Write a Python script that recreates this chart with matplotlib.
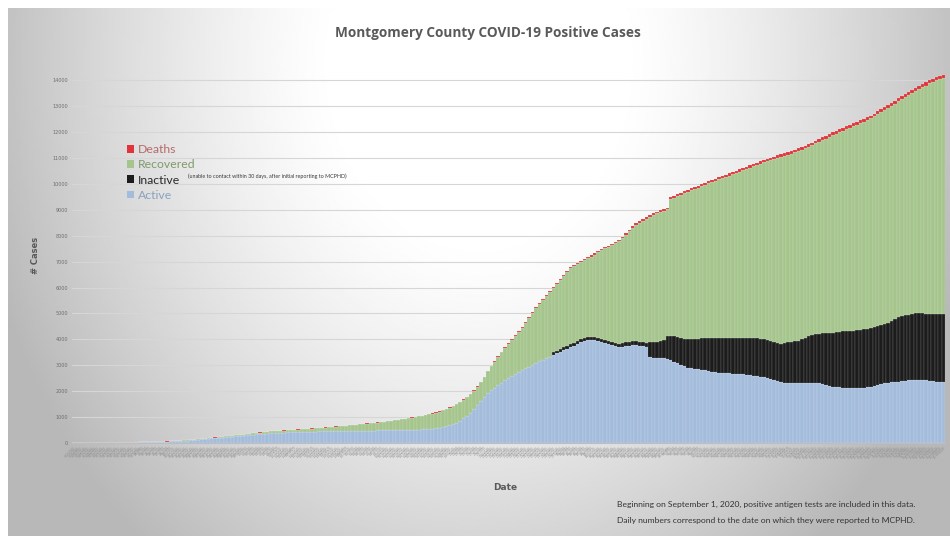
"""Montgomery County COVID-19 positive cases, stacked daily bars."""

import datetime

import matplotlib
import matplotlib.pyplot as plt
import numpy as np
from matplotlib.patches import Patch

matplotlib.use("agg")

# Daily values (cumulative counts per reported day)
start_date = datetime.date(2020, 3, 12)

total_cases = [
    0, 1, 1, 2, 2, 3, 3, 4, 4, 5,
    5, 6, 7, 9, 10, 12, 14, 16, 19, 22,
    25, 29, 33, 37, 42, 47, 53, 59, 66, 73,
    80, 90, 100, 110, 122, 134, 146, 160, 173, 186,
    200, 214, 228, 242, 256, 270, 284, 298, 312, 326,
    340, 357, 374, 391, 408, 425, 440, 450, 460, 470,
    480, 488, 497, 506, 515, 524, 533, 542, 551, 560,
    570, 581, 592, 603, 614, 626, 638, 650, 662, 674,
    686, 700, 714, 728, 742, 756, 770, 784, 798, 812,
    830, 848, 866, 884, 902, 920, 940, 962, 985, 1010,
    1035, 1060, 1090, 1120, 1150, 1185, 1225, 1270, 1320, 1375,
    1440, 1510, 1590, 1680, 1790, 1910, 2040, 2190, 2360, 2560,
    2780, 2980, 3160, 3340, 3520, 3700, 3860, 4010, 4160, 4320,
    4470, 4660, 4850, 5050, 5240, 5400, 5550, 5700, 5860, 6010,
    6170, 6330, 6490, 6640, 6790, 6870, 6950, 7030, 7100, 7170,
    7240, 7320, 7410, 7500, 7560, 7620, 7690, 7760, 7840, 7970,
    8100, 8230, 8360, 8480, 8560, 8640, 8720, 8800, 8880, 8930,
    8980, 9030, 9090, 9480, 9540, 9600, 9660, 9720, 9780, 9840,
    9890, 9940, 10000, 10050, 10100, 10150, 10200, 10260, 10310, 10360,
    10410, 10460, 10520, 10570, 10620, 10670, 10720, 10770, 10820, 10880,
    10930, 10980, 11020, 11060, 11100, 11140, 11180, 11220, 11270, 11320,
    11370, 11420, 11480, 11540, 11600, 11670, 11730, 11800, 11860, 11930,
    11990, 12050, 12110, 12170, 12230, 12280, 12340, 12400, 12460, 12510,
    12570, 12640, 12720, 12800, 12880, 12960, 13040, 13120, 13210, 13300,
    13380, 13460, 13540, 13620, 13700, 13780, 13850, 13920, 14000, 14070,
    14120, 14160, 14200,
]

active = [
    0, 1, 1, 2, 2, 3, 3, 4, 4, 5,
    5, 6, 7, 9, 10, 12, 14, 16, 18, 21,
    24, 27, 31, 35, 40, 45, 50, 55, 61, 67,
    73, 80, 88, 96, 105, 115, 125, 137, 150, 162,
    175, 187, 199, 211, 223, 235, 247, 259, 271, 283,
    295, 307, 319, 331, 343, 353, 363, 372, 380, 388,
    394, 400, 406, 412, 416, 420, 424, 428, 432, 436,
    440, 444, 448, 452, 456, 458, 460, 462, 464, 466,
    468, 470, 472, 474, 476, 478, 480, 482, 484, 486,
    488, 490, 492, 492, 494, 496, 498, 503, 508, 513,
    518, 526, 534, 544, 556, 570, 588, 610, 638, 678,
    720, 770, 860, 960, 1060, 1160, 1300, 1450, 1610, 1770,
    1930, 2030, 2130, 2230, 2330, 2430, 2510, 2590, 2670, 2750,
    2820, 2880, 2950, 3020, 3090, 3150, 3210, 3270, 3330, 3400,
    3460, 3520, 3580, 3640, 3700, 3760, 3820, 3880, 3930, 3980,
    3990, 3960, 3930, 3900, 3860, 3820, 3780, 3740, 3700, 3720,
    3740, 3760, 3780, 3790, 3760, 3730, 3700, 3310, 3300, 3290,
    3280, 3270, 3260, 3200, 3140, 3080, 3020, 2960, 2900, 2880,
    2860, 2840, 2820, 2800, 2780, 2760, 2740, 2720, 2710, 2700,
    2690, 2680, 2670, 2660, 2650, 2640, 2620, 2600, 2580, 2560,
    2540, 2500, 2460, 2420, 2380, 2340, 2320, 2320, 2320, 2330,
    2320, 2320, 2310, 2320, 2330, 2320, 2300, 2270, 2240, 2210,
    2180, 2160, 2150, 2140, 2130, 2120, 2110, 2110, 2120, 2130,
    2150, 2180, 2210, 2240, 2270, 2300, 2320, 2340, 2350, 2370,
    2390, 2410, 2420, 2430, 2440, 2440, 2430, 2420, 2400, 2380,
    2370, 2360, 2360,
]

inactive = [0] * 139 + [
    100,
    100, 100, 110, 110, 110, 110, 120, 120, 120, 120,
    120, 120, 120, 130, 130, 130, 130, 130, 140, 140,
    140, 140, 140, 140, 150, 150, 150, 600, 610, 620,
    640, 700, 880, 950, 980, 1010, 1040, 1070, 1100, 1130,
    1160, 1190, 1220, 1250, 1270, 1290, 1310, 1330, 1340, 1350,
    1360, 1370, 1380, 1390, 1400, 1410, 1430, 1450, 1460, 1470,
    1470, 1480, 1480, 1480, 1480, 1500, 1540, 1560, 1580, 1600,
    1630, 1680, 1740, 1800, 1850, 1880, 1920, 1960, 1990, 2030,
    2080, 2120, 2150, 2170, 2190, 2210, 2230, 2240, 2250, 2260,
    2260, 2260, 2260, 2260, 2270, 2280, 2320, 2380, 2440, 2500,
    2500, 2520, 2540, 2560, 2580, 2580, 2570, 2570, 2580, 2600,
    2610, 2620, 2620,
]

deaths = [0] * 20 + [
    1, 1, 1, 1, 1, 2, 2, 2, 2, 2, 2, 3, 3, 3, 3, 3, 3, 3, 4, 4,
    4, 4, 4, 4, 4, 5, 5, 5, 5, 5, 5, 5, 6, 6, 6, 6, 6, 6, 6, 6,
    6, 6, 6, 7, 7, 7, 7, 7, 7, 7, 7, 8, 8, 8, 8, 8, 8, 8, 8, 8,
    8, 8, 9, 9, 9, 9, 9, 9, 9, 9, 10, 10, 10, 10, 10, 10, 10, 10, 10, 11,
    11, 11, 11, 11, 12, 12, 12, 12, 12, 13, 13, 13, 14, 14, 14, 15, 15, 16, 16, 17,
    17, 18, 19, 20, 21, 22, 23, 24, 25, 26, 27, 28, 29, 30, 31, 32, 33, 34, 35, 36,
    37, 38, 39, 40, 41, 42, 43, 44, 45, 46, 47, 48, 49, 50, 51, 52, 53, 54, 55, 56,
    57, 58, 59, 60, 61, 62, 63, 64, 65, 66, 67, 68, 69, 70, 71, 72, 73, 74, 75, 76,
    77, 78, 79, 80, 81, 82, 83, 84, 85, 86, 87, 88, 89, 90, 91, 92, 93, 94, 95, 96,
    96, 97, 97, 98, 98, 99, 99, 100, 100, 101, 101, 102, 102, 103, 103, 104, 104, 105, 105, 106,
    106, 107, 107, 108, 108, 109, 109, 110, 110, 111, 111, 112, 112, 113, 113, 114, 114, 115, 115, 116,
    116, 117, 117, 118, 118, 119, 119, 120, 120, 121, 121, 122, 122,
]

y_ticks = list(range(0, 15000, 1000))

# Colours
c_active = "#a4bcdb"
c_inactive = "#1c1c1c"
c_recovered = "#a5c58d"
c_deaths = "#e2323a"
text_font = ["Lato", "DejaVu Sans"]

# Derived series
total_cases = np.array(total_cases)
active = np.array(active)
inactive = np.array(inactive)
deaths = np.array(deaths)
recovered = np.clip(total_cases - active - inactive - deaths, 0, None)
dates = [start_date + datetime.timedelta(days=i) for i in range(len(total_cases))]
x = np.arange(len(dates))

fig = plt.figure(figsize=(9.5, 5.36), dpi=100)
fig.patch.set_facecolor("white")

# Radial grey gradient background (white glow top centre, grey edges)
bg = fig.add_axes([8 / 950, 0, 942 / 950, 528 / 536], zorder=-1)
gx, gy = np.meshgrid(np.linspace(0, 1, 400), np.linspace(0, 1, 300))
dist = np.sqrt(((gx - 0.5) / 0.5) ** 2 + ((gy - 0.1) / 1.1) ** 2)
shade = 1.0 - 0.28 * np.clip((dist - 0.3) / 0.8, 0, 1) ** 1.3
bg.imshow(shade, cmap="gray", vmin=0, vmax=1, aspect="auto", extent=(0, 1, 0, 1), origin="upper")
bg.axis("off")

ax = fig.add_axes([72 / 950, 1 - 443 / 536, 873 / 950, 373 / 536])
ax.patch.set_alpha(0)

# Grid behind bars
ax.grid(which="major", axis="y", color="#d6d6d6", linewidth=0.8, zorder=1)
ax.spines[["top", "right", "left"]].set_visible(False)
ax.spines["bottom"].set_color("#bdbdbd")

# Full-width bars with a faint light edge, like the thin seams in the original
bar_style = dict(width=1.0, linewidth=0.3, edgecolor=(1, 1, 1, 0.3), zorder=2)
ax.bar(x, active, color=c_active, **bar_style)
ax.bar(x, inactive, bottom=active, color=c_inactive, **bar_style)
ax.bar(x, recovered, bottom=active + inactive, color=c_recovered, **bar_style)
ax.bar(x, deaths, bottom=active + inactive + recovered, color=c_deaths, **bar_style)

ax.set_xlim(-0.5, len(x) - 0.5)
ax.set_ylim(0, 14400)
ax.set_yticks(y_ticks)
ax.set_yticklabels([str(v) for v in y_ticks], fontsize=3.5, color="#6f6f6f")
ax.yaxis.set_tick_params(length=0, pad=3)

ax.set_xticks(x)
ax.set_xticklabels(
    [f"{d.month}/{d.day}/{d.year}" for d in dates],
    rotation=45,
    ha="right",
    rotation_mode="anchor",
    fontsize=2.0,
    color="#8a8a8a",
)
ax.xaxis.set_tick_params(length=0, pad=2)

# Titles and axis labels
fig.text(488 / 950, 1 - 33 / 536, "Montgomery County COVID-19 Positive Cases", ha="center", va="center",
         fontsize=9.8, weight="bold", color="#595959", family="Open Sans")
fig.text(35 / 950, 1 - 255 / 536, "# Cases", rotation=90, ha="center", va="center",
         fontsize=6, weight="bold", color="#595959")
fig.text(505 / 950, 1 - 488 / 536, "Date", ha="center", va="center",
         fontsize=6.5, weight="bold", color="#595959")

# Legend
handles = [
    Patch(facecolor=c_deaths, label="Deaths"),
    Patch(facecolor=c_recovered, label="Recovered"),
    Patch(facecolor=c_inactive, label="Inactive"),
    Patch(facecolor=c_active, label="Active"),
]
fig.legend(
    handles=handles,
    loc="upper left",
    bbox_to_anchor=(116 / 950, 1 - 133 / 536),
    frameon=False,
    handlelength=0.55,
    handleheight=0.6,
    handletextpad=0.35,
    labelspacing=0.35,
    labelcolor=["#b86a6a", "#7f9a6c", "#2a2a2a", "#8aa2bf"],
    prop={"family": text_font, "size": 8.8},
)
fig.text(188 / 950, 1 - 176 / 536, "(unable to contact within 30 days, after initial reporting to MCPHD)",
         ha="left", va="center", fontsize=3.9, color="#3a3a3a", family=text_font)

# Footer note
fig.text(617 / 950, 1 - 504 / 536,
         "Beginning on September 1, 2020, positive antigen tests are included in this data.",
         ha="left", va="center", fontsize=6.1, color="#333333", family=text_font)
fig.text(617 / 950, 1 - 521 / 536,
         "Daily numbers correspond to the date on which they were reported to MCPHD.",
         ha="left", va="center", fontsize=6.1, color="#333333", family=text_font)

plt.savefig("out.png", dpi=100, facecolor="white")
